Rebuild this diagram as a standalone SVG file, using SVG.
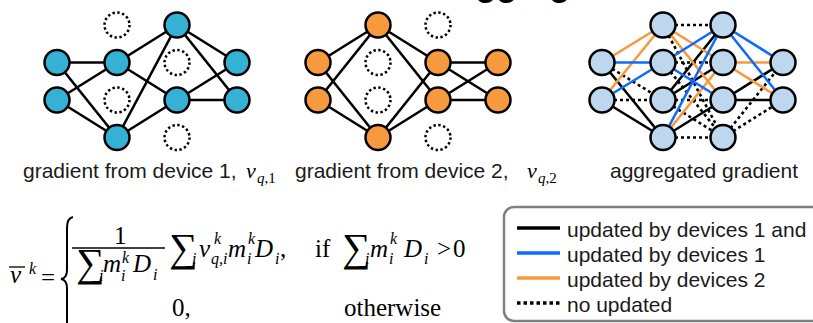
<svg xmlns="http://www.w3.org/2000/svg" width="813" height="323" viewBox="0 0 813 323">
<style>
.n1{fill:#35B1D4;stroke:#000;stroke-width:2.5}
.n2{fill:#F79A3E;stroke:#000;stroke-width:2.5}
.n3{fill:#BDD7EE;stroke:#000;stroke-width:2.5}
.nd{fill:none;stroke:#000;stroke-width:2.5;stroke-dasharray:2.4 2.5}
.e line{stroke:#000;stroke-width:2.6}
line.bl{stroke:#0F6BFF}
line.or{stroke:#F79A3E}
line.dt{stroke-dasharray:3 3}
.lbl{font-family:"Liberation Sans",Arial,sans-serif;font-size:21px;fill:#1a1a1a}
.f{font-family:"Liberation Serif","Times New Roman",serif;fill:#000;font-size:25px}
.mu{font-family:"Liberation Serif","Times New Roman",serif;fill:#000}
.it{font-style:italic;font-size:25px}
.sum{font-family:"Liberation Serif","DejaVu Serif",serif;font-size:40px;font-style:normal}
.s{font-size:16px;font-style:italic}
</style>
<rect width="813" height="323" fill="#fff"/>
<text x="451" y="-4" font-family="Liberation Sans,Arial,sans-serif" font-weight="bold" font-size="34" fill="#000">Aggregation</text>

<g id="connectors">
<g class="e" id="net1-edges">
<line x1="57" y1="62.5" x2="117" y2="62.5"/><line x1="57" y1="62.5" x2="117" y2="137.5"/>
<line x1="57" y1="100" x2="117" y2="62.5"/><line x1="57" y1="100" x2="117" y2="137.5"/>
<line x1="117" y1="62.5" x2="177" y2="25"/><line x1="117" y1="62.5" x2="177" y2="100"/>
<line x1="117" y1="137.5" x2="177" y2="25"/><line x1="117" y1="137.5" x2="177" y2="100"/>
<line x1="177" y1="25" x2="237" y2="62.5"/><line x1="177" y1="25" x2="237" y2="100"/>
<line x1="177" y1="100" x2="237" y2="62.5"/><line x1="177" y1="100" x2="237" y2="100"/>
</g>
<g class="e" id="net2-edges">
<line x1="318" y1="62.5" x2="378" y2="25"/><line x1="318" y1="62.5" x2="378" y2="137.5"/>
<line x1="318" y1="100" x2="378" y2="25"/><line x1="318" y1="100" x2="378" y2="137.5"/>
<line x1="378" y1="25" x2="438" y2="62.5"/><line x1="378" y1="25" x2="438" y2="100"/>
<line x1="378" y1="137.5" x2="438" y2="62.5"/><line x1="378" y1="137.5" x2="438" y2="100"/>
<line x1="438" y1="62.5" x2="498" y2="62.5"/><line x1="438" y1="62.5" x2="498" y2="100"/>
<line x1="438" y1="100" x2="498" y2="62.5"/><line x1="438" y1="100" x2="498" y2="100"/>
</g>
<g class="e" id="net3-edges">
<line class="dt" x1="602" y1="62.5" x2="663" y2="100"/><line class="dt" x1="602" y1="100" x2="663" y2="100"/>
<line class="dt" x1="663" y1="25" x2="723" y2="25"/><line class="dt" x1="663" y1="25" x2="723" y2="137.5"/>
<line class="dt" x1="663" y1="62.5" x2="723" y2="62.5"/><line class="dt" x1="663" y1="62.5" x2="723" y2="137.5"/>
<line class="dt" x1="663" y1="100" x2="723" y2="100"/><line class="dt" x1="663" y1="100" x2="723" y2="137.5"/>
<line class="dt" x1="663" y1="137.5" x2="723" y2="137.5"/>
<line class="dt" x1="723" y1="137.5" x2="783" y2="62.5"/><line class="dt" x1="723" y1="137.5" x2="783" y2="100"/>
<line x1="602" y1="62.5" x2="663" y2="137.5"/><line x1="602" y1="100" x2="663" y2="137.5"/>
<line x1="663" y1="100" x2="723" y2="25"/><line x1="663" y1="100" x2="723" y2="62.5"/>
<line x1="663" y1="137.5" x2="723" y2="100"/>
<line x1="723" y1="100" x2="783" y2="62.5"/><line x1="723" y1="100" x2="783" y2="100"/>
<line class="or" x1="602" y1="62.5" x2="663" y2="25"/><line class="or" x1="602" y1="100" x2="663" y2="25"/>
<line class="or" x1="663" y1="25" x2="723" y2="62.5"/><line class="or" x1="663" y1="25" x2="723" y2="100"/>
<line class="or" x1="663" y1="137.5" x2="723" y2="62.5"/>
<line class="or" x1="723" y1="62.5" x2="783" y2="62.5"/><line class="or" x1="723" y1="62.5" x2="783" y2="100"/>
<line class="bl" x1="602" y1="62.5" x2="663" y2="62.5"/><line class="bl" x1="602" y1="100" x2="663" y2="62.5"/>
<line class="bl" x1="663" y1="62.5" x2="723" y2="25"/><line class="bl" x1="663" y1="62.5" x2="723" y2="100"/>
<line class="bl" x1="663" y1="137.5" x2="723" y2="25"/>
<line class="bl" x1="723" y1="25" x2="783" y2="62.5"/><line class="bl" x1="723" y1="25" x2="783" y2="100"/>
</g>
</g>

<g id="net1">
<g id="n1-a1"><circle class="n1" cx="57" cy="62.5" r="12.5"/></g>
<g id="n1-a2"><circle class="n1" cx="57" cy="100" r="12.5"/></g>
<g id="n1-b1"><circle class="nd" cx="117" cy="25" r="12.5"/></g>
<g id="n1-b2"><circle class="n1" cx="117" cy="62.5" r="12.5"/></g>
<g id="n1-b3"><circle class="nd" cx="117" cy="100" r="12.5"/></g>
<g id="n1-b4"><circle class="n1" cx="117" cy="137.5" r="12.5"/></g>
<g id="n1-c1"><circle class="n1" cx="177" cy="25" r="12.5"/></g>
<g id="n1-c2"><circle class="nd" cx="177" cy="62.5" r="12.5"/></g>
<g id="n1-c3"><circle class="n1" cx="177" cy="100" r="12.5"/></g>
<g id="n1-c4"><circle class="nd" cx="177" cy="137.5" r="12.5"/></g>
<g id="n1-d1"><circle class="n1" cx="237" cy="62.5" r="12.5"/></g>
<g id="n1-d2"><circle class="n1" cx="237" cy="100" r="12.5"/></g>
</g>
<g id="net2">
<g id="n2-a1"><circle class="n2" cx="318" cy="62.5" r="12.5"/></g>
<g id="n2-a2"><circle class="n2" cx="318" cy="100" r="12.5"/></g>
<g id="n2-b1"><circle class="n2" cx="378" cy="25" r="12.5"/></g>
<g id="n2-b2"><circle class="nd" cx="378" cy="62.5" r="12.5"/></g>
<g id="n2-b3"><circle class="nd" cx="378" cy="100" r="12.5"/></g>
<g id="n2-b4"><circle class="n2" cx="378" cy="137.5" r="12.5"/></g>
<g id="n2-c1"><circle class="nd" cx="438" cy="25" r="12.5"/></g>
<g id="n2-c2"><circle class="n2" cx="438" cy="62.5" r="12.5"/></g>
<g id="n2-c3"><circle class="n2" cx="438" cy="100" r="12.5"/></g>
<g id="n2-c4"><circle class="nd" cx="438" cy="137.5" r="12.5"/></g>
<g id="n2-d1"><circle class="n2" cx="498" cy="62.5" r="12.5"/></g>
<g id="n2-d2"><circle class="n2" cx="498" cy="100" r="12.5"/></g>
</g>
<g id="net3">
<g id="n3-a1"><circle class="n3" cx="602" cy="62.5" r="12.5"/></g>
<g id="n3-a2"><circle class="n3" cx="602" cy="100" r="12.5"/></g>
<g id="n3-b1"><circle class="n3" cx="663" cy="25" r="12.5"/></g>
<g id="n3-b2"><circle class="n3" cx="663" cy="62.5" r="12.5"/></g>
<g id="n3-b3"><circle class="n3" cx="663" cy="100" r="12.5"/></g>
<g id="n3-b4"><circle class="n3" cx="663" cy="137.5" r="12.5"/></g>
<g id="n3-c1"><circle class="n3" cx="723" cy="25" r="12.5"/></g>
<g id="n3-c2"><circle class="n3" cx="723" cy="62.5" r="12.5"/></g>
<g id="n3-c3"><circle class="n3" cx="723" cy="100" r="12.5"/></g>
<g id="n3-c4"><circle class="n3" cx="723" cy="137.5" r="12.5"/></g>
<g id="n3-d1"><circle class="n3" cx="783" cy="62.5" r="12.5"/></g>
<g id="n3-d2"><circle class="n3" cx="783" cy="100" r="12.5"/></g>
</g>

<g id="labels">
<text class="lbl" x="23" y="178">gradient from device 1,</text>
<text class="mu" x="246" y="178" font-size="22"><tspan font-style="italic">v</tspan><tspan x="257" y="183" font-size="15"><tspan font-style="italic">q</tspan>,1</tspan></text>
<text class="lbl" x="295" y="178">gradient from device 2,</text>
<text class="mu" x="527" y="178" font-size="22"><tspan font-style="italic">v</tspan><tspan x="538" y="183" font-size="15"><tspan font-style="italic">q</tspan>,2</tspan></text>
<text class="lbl" x="610" y="178">aggregated gradient</text>
</g>

<g id="formula">
<line x1="9" y1="267" x2="25" y2="267" stroke="#000" stroke-width="1.3"/>
<text class="f" x="10" y="283"><tspan class="it" font-size="27">v</tspan><tspan class="s" x="29" y="274">k</tspan><tspan x="41" y="286">=</tspan></text>
<path d="M73 217 Q67 218 67 228 L67 270 Q67 278 61 279 Q67 280 67 288 L67 331 Q67 341 73 342" fill="none" stroke="#000" stroke-width="2"/>
<text class="f" x="114" y="244">1</text>
<line x1="72" y1="248" x2="165" y2="248" stroke="#000" stroke-width="1.3"/>
<text class="f" x="76" y="276"><tspan class="sum">∑</tspan><tspan class="s" x="99" y="281">i</tspan><tspan class="it" x="103" y="272">m</tspan><tspan class="s" x="122" y="263">k</tspan><tspan class="s" x="121" y="281">i</tspan><tspan class="it" x="133" y="272">D</tspan><tspan class="s" x="153" y="280">i</tspan></text>
<text class="f" x="169" y="261"><tspan class="sum">∑</tspan><tspan class="s" x="192" y="264">i</tspan><tspan class="it" x="199" y="257">v</tspan><tspan class="s" x="214" y="244">k</tspan><tspan class="s" x="211" y="264">q,i</tspan><tspan class="it" x="228" y="257">m</tspan><tspan class="s" x="248" y="244">k</tspan><tspan class="s" x="247" y="264">i</tspan><tspan class="it" x="255" y="257">D</tspan><tspan class="s" x="275" y="264">i</tspan><tspan x="280" y="257">,</tspan></text>
<text class="f" x="315" y="257">if<tspan class="sum" x="342" y="261">∑</tspan><tspan class="s" x="365" y="264">i</tspan><tspan class="it" x="370" y="257">m</tspan><tspan class="s" x="390" y="244">k</tspan><tspan class="s" x="389" y="264">i</tspan><tspan class="it" x="404" y="257">D</tspan><tspan class="s" x="424" y="264">i</tspan><tspan x="437" y="257">&gt;</tspan><tspan x="453" y="257">0</tspan></text>
<text class="f" x="172" y="316">0,</text>
<text class="f" x="344" y="316">otherwise</text>
</g>

<g id="legend">
<rect x="504" y="207" width="340" height="114" rx="10" fill="#fff" stroke="#7F7F7F" stroke-width="2.5"/>
<line x1="517" y1="228" x2="560" y2="228" stroke="#000" stroke-width="3.5"/>
<line x1="517" y1="253" x2="560" y2="253" stroke="#0F6BFF" stroke-width="3.5"/>
<line x1="517" y1="278" x2="560" y2="278" stroke="#F79A3E" stroke-width="3.5"/>
<line x1="517" y1="303" x2="560" y2="303" stroke="#000" stroke-width="3.5" stroke-dasharray="3.5 3"/>
<text class="lbl" x="567" y="237">updated by devices 1 and</text>
<text class="lbl" x="567" y="262">updated by devices 1</text>
<text class="lbl" x="567" y="287">updated by devices 2</text>
<text class="lbl" x="567" y="312">no updated</text>
</g>
</svg>
